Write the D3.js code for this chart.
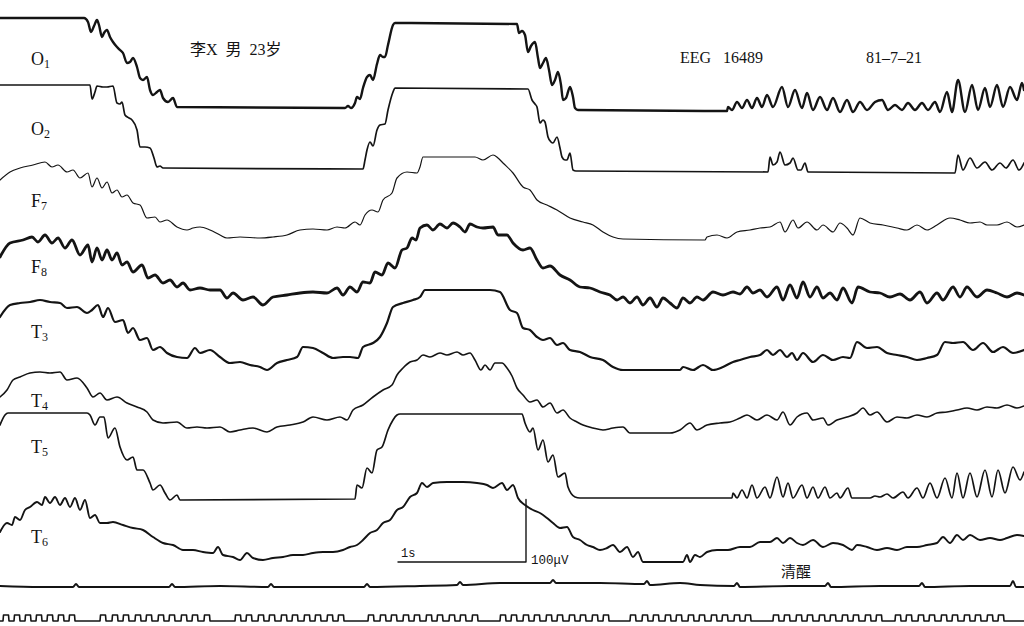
<!DOCTYPE html>
<html>
<head>
<meta charset="utf-8">
<script src="https://d3js.org/d3.v7.min.js"></script>
<style>
body{margin:0;background:#fff}
svg{display:block}
.trace{fill:none;stroke:#141414;stroke-linejoin:round;stroke-linecap:round}
text{fill:#141414}
</style>
</head>
<body>
<div id="chart"></div>
<script>
// samples at 128 Hz, deflection in pen units (1 unit ~ 1.6 uV), positive = downward (EEG negative-up)
var o1 = [[0,-42],[84,-42],[88,-38],[91,-28],[94,-34],[97,-40],[99,-35],[102,-23],[104,-27],[107,-30],[110,-23],[113,-18],[117,-13],[120,-10],[123,-7],[127,3],[130,2],[133,-2],[137,7],[140,18],[143,20],[147,17],[150,30],[153,35],[157,32],[160,30],[163,38],[168,42],[173,38],[177,47],[345,48],[348,46],[351,48],[355,43],[357,37],[360,39],[363,28],[367,17],[370,15],[373,20],[377,4],[380,-5],[383,-3],[385,-3],[388,-15],[393,-35],[395,-37],[517,-36],[519,-27],[522,-29],[525,-25],[528,-8],[531,-14],[535,-18],[538,-2],[540,8],[543,3],[546,-2],[549,10],[552,25],[555,20],[558,12],[561,25],[563,40],[566,38],[570,27],[573,37],[575,48],[578,50],[727,51],[728,47],[732,50],[737,42],[742,48],[747,40],[752,48],[757,38],[762,47],[767,35],[773,47],[782,27],[788,47],[795,30],[802,48],[807,33],[813,50],[820,37],[827,50],[833,38],[840,52],[847,40],[853,52],[860,42],[867,50],[875,42],[882,40],[888,50],[895,45],[902,50],[908,43],[915,50],[922,43],[928,50],[935,42],[940,52],[947,32],[952,52],[958,20],[965,52],[972,25],[978,50],[985,28],[990,47],[997,25],[1003,47],[1010,27],[1017,40],[1022,23],[1024,30]]

var o2 = [[0,-45],[90,-45],[92,-31],[95,-38],[97,-44],[103,-43],[107,-43],[113,-44],[117,-27],[120,-26],[122,-28],[125,-15],[129,-12],[132,-10],[137,0],[140,17],[145,17],[150,18],[154,28],[157,37],[160,36],[163,38],[363,39],[365,30],[367,20],[370,12],[373,16],[377,0],[380,-5],[385,-6],[388,-20],[393,-38],[395,-42],[528,-41],[532,-30],[535,-26],[537,-23],[540,-7],[543,-10],[545,-8],[548,7],[551,12],[553,13],[557,7],[560,18],[562,27],[565,30],[567,30],[570,23],[573,40],[576,41],[768,42],[770,27],[773,35],[777,32],[780,22],[785,35],[790,33],[793,28],[798,40],[801,40],[805,33],[808,42],[955,43],[958,25],[963,40],[970,28],[977,38],[985,32],[992,40],[1000,33],[1006,38],[1013,30],[1019,40],[1024,33]]

var f7 = [[0,-20],[10,-28],[20,-32],[33,-35],[45,-38],[52,-33],[58,-35],[67,-28],[73,-30],[80,-22],[88,-27],[92,-13],[97,-22],[102,-12],[107,-18],[112,-7],[117,-10],[122,-3],[127,-5],[133,3],[140,5],[147,18],[155,17],[160,22],[167,20],[177,27],[187,30],[193,28],[200,27],[210,30],[220,35],[227,38],[240,37],[260,38],[273,37],[287,35],[300,30],[313,29],[327,30],[337,27],[345,28],[355,22],[360,25],[365,15],[372,10],[378,12],[383,0],[392,-7],[397,-22],[407,-28],[417,-27],[420,-33],[423,-43],[475,-43],[483,-40],[493,-45],[498,-42],[503,-37],[513,-27],[523,-13],[530,-10],[537,0],[547,5],[557,10],[570,18],[583,22],[593,25],[603,32],[613,37],[623,39],[705,40],[707,37],[717,35],[727,38],[737,32],[750,30],[760,28],[770,27],[780,22],[785,32],[793,20],[798,28],[807,22],[817,30],[823,25],[833,32],[840,23],[847,28],[853,35],[860,18],[870,23],[883,25],[897,28],[907,30],[917,25],[927,30],[937,25],[950,18],[960,20],[970,23],[980,22],[987,25],[997,25],[1007,22],[1017,27],[1024,25]]

var f8 = [[0,-8],[10,-22],[23,-25],[32,-28],[38,-23],[45,-30],[52,-22],[58,-27],[65,-17],[72,-25],[80,-10],[88,-20],[92,-3],[97,-17],[102,-5],[107,-15],[112,-5],[117,-12],[122,0],[127,-3],[133,7],[142,0],[148,13],[155,10],[163,18],[170,15],[177,22],[183,18],[190,25],[200,23],[210,25],[220,25],[227,33],[233,28],[243,35],[253,32],[263,40],[273,32],[287,30],[300,28],[313,27],[327,28],[337,23],[343,30],[350,22],[357,27],[363,17],[370,18],[375,7],[382,10],[388,-2],[395,3],[402,-15],[407,-17],[412,-27],[416,-25],[420,-37],[427,-40],[433,-35],[440,-41],[447,-37],[453,-42],[460,-38],[465,-33],[470,-41],[477,-38],[483,-37],[493,-38],[498,-30],[507,-30],[513,-22],[523,-15],[530,-17],[537,-5],[543,3],[550,1],[560,10],[570,15],[580,22],[590,23],[600,27],[610,30],[617,35],[623,32],[630,38],[637,32],[643,40],[650,33],[657,42],[663,33],[670,38],[677,43],[683,33],[690,38],[697,32],[703,35],[713,27],[723,30],[733,27],[740,29],[747,22],[753,28],[760,25],[767,32],[777,22],[783,35],[790,20],[797,33],[803,17],[810,32],[817,22],[823,33],[830,28],[837,35],[843,23],[852,38],[858,22],[870,27],[880,28],[890,32],[900,29],[910,35],[920,27],[927,38],[937,28],[943,35],[953,22],[960,32],[967,22],[977,32],[987,25],[997,28],[1007,32],[1017,28],[1024,30]]

var t3 = [[0,-13],[10,-25],[20,-27],[30,-28],[40,-30],[50,-28],[60,-27],[67,-22],[77,-23],[87,-17],[92,-20],[98,-25],[103,-13],[108,-22],[115,-8],[123,-10],[128,3],[133,-2],[140,10],[147,8],[153,20],[160,17],[167,23],[177,27],[187,28],[195,18],[200,23],[210,20],[220,27],[230,33],[240,32],[250,35],[260,37],[267,40],[277,33],[287,30],[297,27],[303,17],[313,18],[323,23],[333,28],[343,27],[350,27],[358,28],[363,17],[373,13],[380,7],[387,-7],[393,-23],[403,-27],[413,-30],[420,-33],[425,-40],[490,-40],[500,-38],[510,-20],[517,-17],[523,-2],[530,0],[537,7],[543,10],[550,8],[557,15],[563,13],[570,20],[580,22],[590,27],[603,30],[613,37],[623,40],[680,40],[683,37],[693,40],[703,35],[713,40],[723,37],[733,32],[740,30],[750,27],[760,25],[767,20],[773,25],[780,20],[787,27],[792,23],[797,30],[803,23],[813,32],[823,25],[833,30],[843,27],[850,28],[857,12],[867,18],[877,17],[887,23],[897,25],[907,27],[917,30],[927,28],[937,25],[945,12],[953,13],[963,12],[973,20],[983,13],[993,22],[1003,17],[1013,23],[1024,20]]

var t4 = [[0,-3],[7,-10],[13,-20],[20,-23],[30,-27],[40,-28],[50,-27],[60,-28],[67,-20],[77,-22],[87,-12],[93,-3],[100,-7],[107,0],[117,-3],[127,3],[137,7],[147,12],[153,20],[163,23],[177,22],[187,28],[197,27],[207,28],[220,27],[230,32],[240,30],[253,28],[267,32],[277,27],[290,25],[303,22],[313,17],[327,20],[340,17],[347,20],[353,10],[363,5],[373,-3],[383,-10],[392,-15],[397,-25],[403,-32],[410,-38],[417,-40],[423,-45],[430,-43],[440,-47],[447,-45],[457,-48],[463,-45],[470,-47],[475,-40],[481,-30],[485,-35],[490,-30],[495,-37],[502,-37],[507,-32],[512,-24],[517,-12],[523,-5],[530,2],[537,0],[543,7],[550,3],[557,13],[563,10],[570,18],[577,22],[583,25],[593,28],[603,30],[613,28],[623,27],[630,33],[647,33],[663,33],[670,33],[680,30],[690,23],[697,30],[707,25],[720,23],[730,22],[740,18],[747,15],[757,20],[767,15],[777,20],[783,12],[790,25],[797,17],[807,13],[813,20],[823,18],[828,25],[837,20],[847,17],[857,13],[863,8],[870,15],[877,12],[887,22],[897,17],[907,18],[917,15],[927,17],[937,13],[947,12],[957,10],[967,8],[977,10],[987,7],[997,8],[1007,5],[1017,8],[1024,6]]

var t5 = [[0,-30],[5,-40],[8,-42],[87,-42],[90,-40],[95,-30],[100,-38],[104,-38],[108,-17],[115,-27],[120,-8],[127,5],[133,2],[137,15],[143,15],[150,28],[153,35],[160,30],[165,38],[170,45],[177,40],[180,45],[355,44],[357,30],[362,33],[367,13],[372,18],[377,-5],[382,-8],[388,-25],[393,-35],[397,-40],[400,-41],[522,-41],[525,-32],[530,-23],[533,-27],[538,-5],[543,-15],[548,7],[553,0],[558,22],[565,18],[568,32],[575,42],[580,43],[732,43],[733,38],[737,43],[742,35],[747,43],[752,30],[757,43],[765,32],[770,43],[777,22],[783,42],[788,28],[793,43],[802,30],[807,43],[813,32],[818,43],[825,32],[830,43],[837,38],[840,43],[848,33],[852,43],[870,43],[875,41],[880,42],[887,39],[893,43],[903,37],[908,43],[917,33],[923,43],[930,28],[937,43],[945,23],[952,43],[957,18],[963,43],[970,18],[977,42],[985,15],[992,42],[998,15],[1005,38],[1013,12],[1020,25],[1024,17]]

var t6 = [[0,12],[7,3],[12,5],[15,-3],[20,0],[25,-10],[30,-13],[37,-18],[42,-15],[45,-23],[50,-17],[55,-23],[60,-15],[65,-22],[70,-13],[75,-22],[80,-10],[85,-20],[90,-2],[95,-5],[100,3],[107,3],[113,2],[123,5],[133,8],[143,10],[153,17],[163,23],[173,25],[183,30],[193,30],[203,32],[213,33],[218,27],[223,35],[233,37],[240,40],[247,33],[253,38],[263,40],[273,38],[283,37],[293,35],[303,35],[313,33],[323,32],[333,32],[343,30],[350,27],[357,25],[363,20],[370,13],[377,10],[383,3],[390,0],[397,-10],[403,-13],[410,-23],[417,-27],[422,-37],[427,-33],[433,-37],[447,-38],[463,-38],[477,-37],[487,-35],[493,-32],[502,-37],[507,-30],[513,-35],[518,-22],[525,-15],[533,-10],[540,-7],[547,-2],[553,3],[560,8],[567,7],[573,17],[580,20],[587,25],[593,27],[600,30],[607,28],[613,25],[620,32],[627,27],[633,37],[638,32],[643,42],[683,42],[687,35],[690,42],[695,35],[700,37],[707,32],[717,30],[728,30],[740,27],[750,27],[760,22],[770,22],[777,18],[783,23],[790,18],[797,23],[803,25],[813,20],[823,27],[833,23],[843,25],[852,30],[857,25],[867,27],[877,30],[887,28],[897,30],[907,27],[917,27],[927,25],[937,23],[943,17],[950,23],[957,15],[963,20],[970,15],[980,20],[990,18],[1000,20],[1007,18],[1017,15],[1024,16]]

// ECG-like channel with small beats
var ecg = [[0,1],[40,2],[73,2],[76,-1],[79,2],[120,2],[169,2],[172,-1],[175,2],[220,1],[268,2],[271,-1],[274,2],[330,2],[364,2],[367,-1],[370,2],[420,1],[457,0],[460,-3],[463,0],[500,-2],[550,-2],[553,-5],[556,-2],[600,-2],[644,-1],[647,-4],[650,0],[680,-2],[700,0],[734,1],[737,-2],[740,2],[790,1],[825,1],[828,-2],[831,2],[880,1],[919,1],[922,-2],[925,2],[970,1],[1010,1],[1013,-4],[1016,2],[1024,2]]

// time marker rising edges (samples)
var markerEdges = [3,14,25,36,47,58,69, 100,112,123,135,146,158,169,181,192,204, 235,246,258,269,281,292,304,315,327,338, 368,380,391,403,414,426,437,449,460,472, 500,511,523,534,546,557,569,580,592,603, 630,642,653,665,676,688,699,711,722,734,745, 773,784,796,807,819,830,842,853,865,876, 895,906,918,929,941,952,964,975,987,998]

var leadLetters = ['O','O','F','F','T','T','T','T']
var leadNumbers = ['1','2','7','8','3','4','5','6']
var headerTexts = ['李X  男  23岁', 'EEG   16489', '81–7–21']
var stateText = '清醒'
var calLabels = ['1s', '100μV']
var UV_PER_UNIT = 1.6
var SAMPLE_RATE = 128

var traces = [o1, o2, f7, f8, t3, t4, t5, t6]

// layout
var W = 1024, H = 626
var rowBase = [60, 130, 200, 265, 330, 400, 455, 520]
var labelDy = [5, 5, 7, 8, 8, 7, -2, 23]
var widths = [2.4, 1.7, 1.2, 2.8, 2.2, 1.6, 1.7, 1.9]

var svg = d3.select('#chart').append('svg')
  .attr('width', W).attr('height', H)

var x = d3.scaleLinear().domain([0, 1024]).range([0, W])

function rowScale(base){
  return d3.scaleLinear().domain([-80, 80]).range([base - 80, base + 80])
}

traces.forEach(function(data, i){
  var y = rowScale(rowBase[i])
  var line = d3.line()
    .x(function(d){ return x(d[0]) })
    .y(function(d){ return y(d[1]) })
    .curve(d3.curveMonotoneX)
  svg.append('path').attr('class', 'trace')
    .attr('d', line(data))
    .attr('stroke-width', widths[i])

  var lab = svg.append('text')
    .attr('x', x(31)).attr('y', y(labelDy[i]))
    .attr('font-family', 'Liberation Serif, serif')
    .attr('font-size', 18)
  lab.append('tspan').text(leadLetters[i])
  lab.append('tspan').attr('font-size', 12).attr('dy', 3).text(leadNumbers[i])
})

// ecg
var yEcg = rowScale(585)
svg.append('path').attr('class', 'trace')
  .attr('d', d3.line().x(function(d){ return x(d[0]) }).y(function(d){ return yEcg(d[1]) }).curve(d3.curveMonotoneX)(ecg))
  .attr('stroke-width', 2)

// time marker square wave
var yMk = rowScale(615)
var mk = [[0, 6]]
markerEdges.forEach(function(e){
  mk.push([e, 6], [e + 0.5, 0], [e + 5.5, 0], [e + 6, 6])
})
mk.push([1024, 6])
svg.append('path').attr('class', 'trace')
  .attr('d', d3.line().x(function(d){ return x(d[0]) }).y(function(d){ return yMk(d[1]) })(mk))
  .attr('stroke-width', 1.6)

// calibration: 1 s horizontal, 100 uV vertical, hung from T6 row
var yT6 = rowScale(rowBase[7])
var calStart = 398, calBottom = 42
var calTop = calBottom - 100 / UV_PER_UNIT
svg.append('path').attr('class', 'trace')
  .attr('d', 'M' + x(calStart) + ',' + yT6(calBottom) + 'H' + x(calStart + SAMPLE_RATE) + 'V' + yT6(calTop))
  .attr('stroke-width', 1.4)
  .attr('stroke-linecap', 'butt')
svg.append('text').attr('x', x(calStart + 3)).attr('y', yT6(calBottom - 5))
  .attr('font-family', 'Liberation Mono, monospace').attr('font-size', 12)
  .text(calLabels[0])
svg.append('text').attr('x', x(calStart + SAMPLE_RATE + 5)).attr('y', yT6(calBottom + 2))
  .attr('font-family', 'Liberation Mono, monospace').attr('font-size', 12.5)
  .text(calLabels[1])

// header texts
var hdr = [[190, 55], [680, 63], [866, 63]]
headerTexts.forEach(function(t, i){
  svg.append('text').attr('x', x(hdr[i][0])).attr('y', hdr[i][1])
    .attr('font-family', 'Liberation Serif, Noto Sans CJK SC, serif')
    .attr('font-size', 16)
    .attr('xml:space', 'preserve')
    .style('white-space', 'pre')
    .text(t)
})

svg.append('text').attr('x', x(781)).attr('y', 577)
  .attr('font-family', 'Noto Sans CJK SC, sans-serif')
  .attr('font-size', 15)
  .text(stateText)
</script>
</body>
</html>
